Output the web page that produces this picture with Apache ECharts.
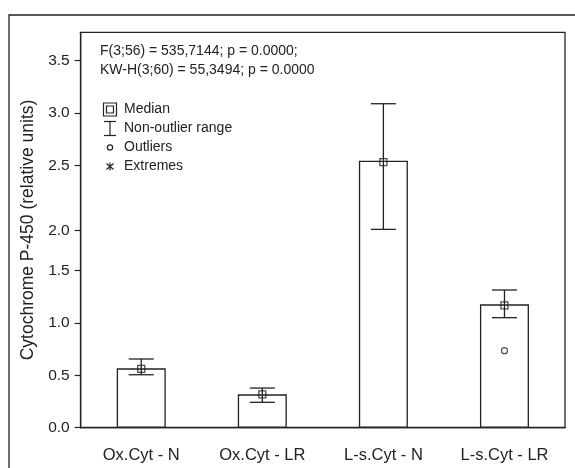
<!DOCTYPE html>
<html>
<head>
<meta charset="utf-8">
<script src="https://cdn.jsdelivr.net/npm/echarts@6/dist/echarts.min.js"></script>
<style>html,body{margin:0;padding:0;background:#fff;}#c{width:575px;height:468px;}</style>
</head>
<body>
<div id="c"></div>
<script>
var categories = ['Ox.Cyt - N', 'Ox.Cyt - LR', 'L-s.Cyt - N', 'L-s.Cyt - LR'];
var barValues = [0.566, 0.318, 2.545, 1.176];
var medians = [0.56, 0.318, 2.533, 1.167];
var rangeLow = [0.505, 0.242, 1.891, 1.049];
var rangeHigh = [0.655, 0.378, 3.089, 1.313];
var outliers = [[3, 0.734]];
var tickValues = [0, 0.5, 1.0, 1.5, 1.88, 2.5, 3.0, 3.5];
var tickLabels = ['0.0', '0.5', '1.0', '1.5', '2.0', '2.5', '3.0', '3.5'];
var statLines = ['F(3;56) = 535,7144; p = 0.0000;', 'KW-H(3;60) = 55,3494; p = 0.0000'];
var legendItems = ['Median', 'Non-outlier range', 'Outliers', 'Extremes'];

var FONT = 'Liberation Sans';
var INK = '#222';
var chart = echarts.init(document.getElementById('c'));

var whiskerData = categories.map(function (c, i) { return [i, rangeLow[i], rangeHigh[i]]; });
var medianData = categories.map(function (c, i) { return [i, medians[i]]; });

var graphics = [
  { type: 'rect', shape: { x: 9, y: 15, width: 700, height: 600 }, style: { fill: 'none', stroke: INK, lineWidth: 1.3 }, silent: true },
  { type: 'text', left: 100, top: 42, style: { text: statLines.join('\n'), font: '14px ' + FONT, fill: INK, lineHeight: 19 } }
];
// legend icons
var lx = 110, ly = [109.5, 128.5, 147.5, 166.5];
var ls = { stroke: INK, lineWidth: 1.2 };
graphics.push({ type: 'rect', shape: { x: lx - 6.5, y: ly[0] - 6.5, width: 13, height: 13 }, style: { fill: 'none', stroke: INK, lineWidth: 1.2 } });
graphics.push({ type: 'rect', shape: { x: lx - 3.5, y: ly[0] - 3.5, width: 7, height: 7 }, style: { fill: 'none', stroke: INK, lineWidth: 1.2 } });
graphics.push({ type: 'line', shape: { x1: lx - 6, y1: ly[1] - 7, x2: lx + 6, y2: ly[1] - 7 }, style: ls });
graphics.push({ type: 'line', shape: { x1: lx, y1: ly[1] - 7, x2: lx, y2: ly[1] + 7 }, style: ls });
graphics.push({ type: 'line', shape: { x1: lx - 6, y1: ly[1] + 7, x2: lx + 6, y2: ly[1] + 7 }, style: ls });
graphics.push({ type: 'circle', shape: { cx: lx, cy: ly[2], r: 2.6 }, style: { fill: 'none', stroke: INK, lineWidth: 1.2 } });
graphics.push({ type: 'line', shape: { x1: lx, y1: ly[3] - 4, x2: lx, y2: ly[3] + 4 }, style: ls });
graphics.push({ type: 'line', shape: { x1: lx - 3.5, y1: ly[3] - 3, x2: lx + 3.5, y2: ly[3] + 3 }, style: ls });
graphics.push({ type: 'line', shape: { x1: lx - 3.5, y1: ly[3] + 3, x2: lx + 3.5, y2: ly[3] - 3 }, style: ls });
legendItems.forEach(function (t, i) {
  graphics.push({ type: 'text', x: 124, y: ly[i], style: { text: t, font: '14px ' + FONT, fill: INK, verticalAlign: 'middle' } });
});

chart.setOption({
  animation: false,
  backgroundColor: '#fff',
  textStyle: { fontFamily: FONT },
  grid: { left: 80.7, right: 10, top: 32.3, bottom: 40.3, show: true, borderColor: INK, borderWidth: 1.3, backgroundColor: 'transparent' },
  xAxis: {
    type: 'category', data: categories,
    axisLine: { lineStyle: { color: INK, width: 1.3 } },
    axisTick: { alignWithLabel: true, length: 6, lineStyle: { color: INK, width: 1.2 } },
    axisLabel: { color: INK, fontSize: 16.5, margin: 19, fontFamily: FONT },
    splitLine: { show: false }
  },
  yAxis: {
    type: 'value', min: 0, max: 3.77,
    name: 'Cytochrome P-450 (relative units)', nameLocation: 'middle', nameGap: 44, nameRotate: 90,
    nameTextStyle: { color: INK, fontSize: 17.5, fontFamily: FONT },
    axisLine: { show: true, lineStyle: { color: INK, width: 1.3 } },
    axisTick: { show: true, length: 6, customValues: tickValues, lineStyle: { color: INK, width: 1.2 } },
    axisLabel: {
      color: INK, fontSize: 15.5, margin: 11, fontFamily: FONT, customValues: tickValues,
      formatter: function (v) {
        var best = 0;
        for (var i = 0; i < tickValues.length; i++) if (Math.abs(tickValues[i] - v) < Math.abs(tickValues[best] - v)) best = i;
        return tickLabels[best];
      }
    },
    splitLine: { show: false }
  },
  series: [
    {
      type: 'bar', data: barValues, barWidth: 49,
      itemStyle: { color: '#fff', borderColor: INK, borderWidth: 1.3 },
      z: 2
    },
    {
      type: 'custom', data: whiskerData, z: 3,
      renderItem: function (params, api) {
        var x = api.value(0);
        var lo = api.coord([x, api.value(1)]);
        var hi = api.coord([x, api.value(2)]);
        var hw = 12.5;
        var st = { stroke: INK, lineWidth: 1.3 };
        return { type: 'group', children: [
          { type: 'line', shape: { x1: lo[0], y1: lo[1], x2: hi[0], y2: hi[1] }, style: st },
          { type: 'line', shape: { x1: lo[0] - hw, y1: lo[1], x2: lo[0] + hw, y2: lo[1] }, style: st },
          { type: 'line', shape: { x1: hi[0] - hw, y1: hi[1], x2: hi[0] + hw, y2: hi[1] }, style: st }
        ] };
      }
    },
    {
      type: 'scatter', data: medianData, symbol: 'rect', symbolSize: 7, z: 4,
      itemStyle: { color: 'rgba(0,0,0,0)', borderColor: INK, borderWidth: 1.3 }
    },
    {
      type: 'scatter', data: outliers, symbol: 'circle', symbolSize: 6, z: 4,
      itemStyle: { color: '#fff', borderColor: INK, borderWidth: 1.2 }
    }
  ],
  graphic: graphics
});
</script>
</body>
</html>
